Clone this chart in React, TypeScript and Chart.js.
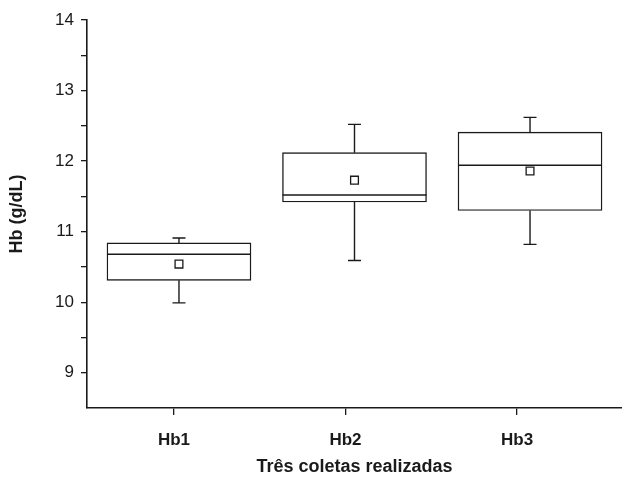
import React, { useEffect, useRef } from "react";
import { Chart, registerables } from "chart.js";

Chart.register(...registerables);

// ---- data ----
const categories = ["Hb1", "Hb2", "Hb3"];
const boxPositions = [1, 2, 3];
const tickPositions = [0, 1, 2];
const whiskerLow = [9.99, 10.59, 10.82];
const q1 = [10.31, 11.42, 11.3];
const median = [10.68, 11.52, 11.94];
const q3 = [10.84, 12.12, 12.41];
const whiskerHigh = [10.91, 12.52, 12.62];
const mean = [10.54, 11.73, 11.86];
const yTitle = "Hb (g/dL)";
const xTitle = "Três coletas realizadas";

const INK = "#1a1a1a";
const FONT = "'Liberation Sans', Arial, Helvetica, sans-serif";

const boxPlugin = {
  id: "boxExtras",
  afterDatasetsDraw(chart: any) {
    const { ctx } = chart;
    const x = chart.scales.x;
    const y = chart.scales.y;
    const meta = chart.getDatasetMeta(0);
    ctx.save();
    ctx.strokeStyle = INK;
    ctx.lineWidth = 1.4;
    boxPositions.forEach((p, i) => {
      const cx = x.getPixelForValue(p);
      const el = meta.data[i];
      const half = el ? el.width / 2 : 72;
      const cap = 6.5;
      ctx.beginPath();
      ctx.moveTo(cx, y.getPixelForValue(q3[i]));
      ctx.lineTo(cx, y.getPixelForValue(whiskerHigh[i]));
      ctx.moveTo(cx - cap, y.getPixelForValue(whiskerHigh[i]));
      ctx.lineTo(cx + cap, y.getPixelForValue(whiskerHigh[i]));
      ctx.moveTo(cx, y.getPixelForValue(q1[i]));
      ctx.lineTo(cx, y.getPixelForValue(whiskerLow[i]));
      ctx.moveTo(cx - cap, y.getPixelForValue(whiskerLow[i]));
      ctx.lineTo(cx + cap, y.getPixelForValue(whiskerLow[i]));
      ctx.moveTo(cx - half, y.getPixelForValue(median[i]));
      ctx.lineTo(cx + half, y.getPixelForValue(median[i]));
      ctx.stroke();
    });
    ctx.restore();
  },
};

export default function App() {
  const ref = useRef<HTMLCanvasElement | null>(null);
  useEffect(() => {
    if (!ref.current) return;
    const chart = new Chart(ref.current, {
      type: "bar",
      data: {
        datasets: [
          {
            type: "bar",
            data: boxPositions.map((p, i) => ({ x: p, y: [q1[i], q3[i]] })) as any,
            backgroundColor: "#ffffff",
            borderColor: INK,
            borderWidth: 1.4,
            borderSkipped: false,
            barThickness: 144,
            xAxisID: "x",
            yAxisID: "y",
            order: 2,
          } as any,
          {
            type: "line",
            data: boxPositions.map((p, i) => ({ x: p, y: mean[i] })) as any,
            showLine: false,
            pointStyle: "rect",
            pointRadius: 5.5,
            pointBackgroundColor: "#ffffff",
            pointBorderColor: INK,
            pointBorderWidth: 1.3,
            xAxisID: "x",
            yAxisID: "y",
            order: 1,
          } as any,
        ],
      },
      options: {
        responsive: false,
        animation: false,
        devicePixelRatio: 1,
        layout: { autoPadding: false, padding: { top: 20, right: 0, left: 0, bottom: 0 } },
        plugins: { legend: { display: false }, tooltip: { enabled: false } },
        scales: {
          x: {
            type: "linear",
            display: false,
            min: 0.476,
            max: 3.524,
            offset: false,
          },
          x2: {
            type: "linear",
            position: "bottom",
            min: -0.507,
            max: 2.612,
            offset: false,
            afterBuildTicks: (scale: any) => {
              scale.ticks = tickPositions.map((v) => ({ value: v }));
            },
            afterFit: (scale: any) => {
              scale.height = 70;
              scale.paddingLeft = 0;
              scale.paddingRight = 0;
            },
            ticks: {
              autoSkip: false,
              maxRotation: 0,
              padding: 15,
              color: INK,
              font: { family: FONT, size: 17, weight: "bold" },
              callback: (v: any) => {
                const idx = tickPositions.indexOf(Number(v));
                return idx >= 0 ? categories[idx] : "";
              },
            },
            grid: {
              display: true,
              offset: false,
              drawOnChartArea: false,
              tickLength: 7,
              color: INK,
              lineWidth: 1.3,
            },
            border: { display: true, color: INK, width: 1.6 },
            title: {
              display: true,
              text: xTitle,
              color: INK,
              font: { family: FONT, size: 18, weight: "bold" },
              padding: { top: 0, bottom: 0 },
            },
          },
          y: {
            type: "linear",
            min: 8.5,
            max: 14,
            afterFit: (scale: any) => {
              scale.width = 87;
              scale.paddingTop = 0;
              scale.paddingBottom = 0;
            },
            ticks: {
              stepSize: 0.5,
              autoSkip: false,
              padding: 7,
              color: INK,
              font: { family: FONT, size: 17 },
              callback: (v: any) => (Number.isInteger(Number(v)) ? String(v) : ""),
            },
            grid: {
              display: true,
              drawOnChartArea: false,
              tickLength: 6,
              lineWidth: 1.3,
              color: (c: any) => (c.tick && c.tick.value === 8.5 ? "rgba(0,0,0,0)" : INK),
            },
            border: { display: true, color: INK, width: 1.6 },
            title: {
              display: true,
              text: yTitle,
              color: INK,
              font: { family: FONT, size: 18, weight: "bold" },
              padding: { top: 6, bottom: 0 },
            },
          },
        },
      },
      plugins: [boxPlugin],
    });
    return () => chart.destroy();
  }, []);

  return (
    <div style={{ position: "absolute", left: 0, top: 0, width: 622, height: 478, background: "#fff" }}>
      <canvas ref={ref} width={622} height={478} style={{ display: "block", width: 622, height: 478 }} />
    </div>
  );
}
